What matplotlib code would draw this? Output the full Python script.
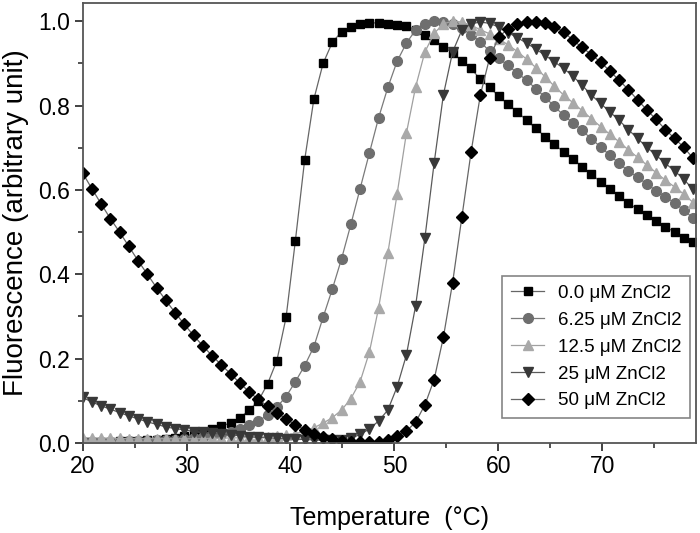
import matplotlib
matplotlib.use("Agg")
import matplotlib.pyplot as plt
from matplotlib.ticker import MultipleLocator

temps = [20.00, 20.89, 21.78, 22.67, 23.56, 24.45, 25.34, 26.23, 27.12, 28.01,
         28.90, 29.79, 30.68, 31.57, 32.46, 33.35, 34.24, 35.13, 36.02, 36.91,
         37.80, 38.69, 39.58, 40.47, 41.36, 42.25, 43.14, 44.03, 44.92, 45.81,
         46.70, 47.59, 48.48, 49.37, 50.26, 51.15, 52.04, 52.93, 53.82, 54.71,
         55.60, 56.49, 57.38, 58.27, 59.16, 60.05, 60.94, 61.83, 62.72, 63.61,
         64.50, 65.39, 66.28, 67.17, 68.06, 68.95, 69.84, 70.73, 71.62, 72.51,
         73.40, 74.29, 75.18, 76.07, 76.96, 77.85, 78.74]

zn_0 = [0.003, 0.003, 0.003, 0.003, 0.004, 0.004, 0.005, 0.006, 0.007, 0.009,
        0.012, 0.016, 0.021, 0.026, 0.032, 0.039, 0.048, 0.060, 0.077, 0.100,
        0.140, 0.195, 0.298, 0.479, 0.670, 0.815, 0.900, 0.950, 0.975, 0.986,
        0.993, 0.996, 0.996, 0.994, 0.991, 0.988, 0.980, 0.967, 0.955, 0.940,
        0.925, 0.906, 0.888, 0.862, 0.843, 0.822, 0.803, 0.785, 0.765, 0.746,
        0.726, 0.708, 0.690, 0.673, 0.655, 0.637, 0.619, 0.603, 0.585, 0.569,
        0.554, 0.540, 0.527, 0.513, 0.500, 0.487, 0.476]

zn_625 = [0.002, 0.002, 0.003, 0.003, 0.003, 0.004, 0.004, 0.005, 0.006, 0.007,
          0.008, 0.010, 0.012, 0.015, 0.018, 0.022, 0.027, 0.034, 0.042, 0.052,
          0.066, 0.085, 0.110, 0.145, 0.183, 0.228, 0.298, 0.365, 0.437, 0.518,
          0.603, 0.687, 0.771, 0.843, 0.905, 0.948, 0.979, 0.994, 1.000, 0.999,
          0.993, 0.983, 0.968, 0.951, 0.929, 0.912, 0.895, 0.877, 0.860, 0.840,
          0.820, 0.798, 0.777, 0.759, 0.741, 0.721, 0.702, 0.682, 0.663, 0.645,
          0.630, 0.614, 0.598, 0.584, 0.569, 0.552, 0.533]

zn_125 = [0.012, 0.012, 0.011, 0.011, 0.011, 0.010, 0.010, 0.010, 0.010, 0.010,
          0.010, 0.010, 0.010, 0.010, 0.011, 0.011, 0.012, 0.012, 0.013, 0.014,
          0.015, 0.017, 0.019, 0.022, 0.028, 0.036, 0.047, 0.060, 0.078, 0.105,
          0.145, 0.215, 0.320, 0.450, 0.590, 0.734, 0.844, 0.927, 0.971, 0.994,
          1.000, 0.998, 0.990, 0.980, 0.970, 0.958, 0.944, 0.928, 0.910, 0.890,
          0.868, 0.846, 0.825, 0.807, 0.788, 0.769, 0.750, 0.732, 0.714, 0.695,
          0.677, 0.659, 0.641, 0.623, 0.607, 0.590, 0.570]

zn_25 = [0.108, 0.097, 0.088, 0.080, 0.072, 0.064, 0.057, 0.050, 0.044, 0.038,
         0.034, 0.031, 0.027, 0.025, 0.023, 0.021, 0.019, 0.017, 0.015, 0.013,
         0.012, 0.011, 0.010, 0.009, 0.008, 0.007, 0.006, 0.006, 0.007, 0.011,
         0.020, 0.033, 0.052, 0.078, 0.133, 0.208, 0.325, 0.485, 0.663, 0.825,
         0.927, 0.979, 0.994, 0.998, 0.995, 0.986, 0.973, 0.961, 0.948, 0.934,
         0.919, 0.904, 0.888, 0.870, 0.848, 0.825, 0.805, 0.785, 0.765, 0.743,
         0.722, 0.701, 0.682, 0.663, 0.645, 0.625, 0.601]

zn_50 = [0.640, 0.603, 0.567, 0.532, 0.500, 0.466, 0.432, 0.400, 0.368, 0.338,
         0.309, 0.281, 0.255, 0.230, 0.207, 0.185, 0.164, 0.142, 0.121, 0.103,
         0.087, 0.072, 0.057, 0.043, 0.031, 0.021, 0.014, 0.009, 0.005, 0.003,
         0.002, 0.002, 0.003, 0.008, 0.016, 0.028, 0.049, 0.090, 0.150, 0.250,
         0.380, 0.535, 0.690, 0.825, 0.913, 0.963, 0.982, 0.993, 0.998, 0.999,
         0.995, 0.987, 0.975, 0.955, 0.938, 0.921, 0.903, 0.882, 0.860, 0.838,
         0.813, 0.790, 0.767, 0.743, 0.722, 0.701, 0.675]

labels = ["0.0 \u03bcM ZnCl2", "6.25 \u03bcM ZnCl2", "12.5 \u03bcM ZnCl2",
          "25 \u03bcM ZnCl2", "50 \u03bcM ZnCl2"]
series = [zn_0, zn_625, zn_125, zn_25, zn_50]

styles = [
    dict(marker="s", ms=6.0, mfc="#000000", mec="#000000", color="#666666"),
    dict(marker="o", ms=7.0, mfc="#6e6e6e", mec="#6e6e6e", color="#7a7a7a"),
    dict(marker="^", ms=7.5, mfc="#a9a9a9", mec="#a9a9a9", color="#a0a0a0"),
    dict(marker="v", ms=7.5, mfc="#383838", mec="#383838", color="#5a5a5a"),
    dict(marker="D", ms=6.5, mfc="#000000", mec="#000000", color="#666666"),
]

plt.rcParams["font.family"] = ["Liberation Sans", "DejaVu Sans"]

fig = plt.figure(figsize=(7.0, 5.33), dpi=100)
ax = fig.add_axes([0.118, 0.169, 0.876, 0.826])

for vals, lab, st in zip(series, labels, styles):
    ax.plot(temps, vals, linestyle="-", linewidth=0.9, label=lab, **st)

ax.set_xlim(20, 79)
ax.set_ylim(0, 1.044)
ax.xaxis.set_major_locator(MultipleLocator(10))
ax.xaxis.set_minor_locator(MultipleLocator(5))
ax.yaxis.set_major_locator(MultipleLocator(0.2))
ax.yaxis.set_minor_locator(MultipleLocator(0.1))
ax.yaxis.set_major_formatter(plt.FuncFormatter(lambda v, p: f"{v:.1f}"))

ax.tick_params(which="major", direction="out", length=6, width=1.3,
               color="#333333", labelsize=16.5, pad=3)
ax.tick_params(which="minor", direction="out", length=3.5, width=1.2,
               color="#333333")
for s in ax.spines.values():
    s.set_color("#555555")
    s.set_linewidth(1.3)

ax.set_xlabel("Temperature  (\u00b0C)", fontsize=18, labelpad=20)
ax.set_ylabel("Fluorescence (arbitrary unit)", fontsize=20, labelpad=7)

leg = ax.legend(loc="lower right", bbox_to_anchor=(0.990, 0.057),
                fontsize=13.5, frameon=True, fancybox=False,
                edgecolor="#666666", handlelength=1.8, handletextpad=0.7,
                labelspacing=0.52, borderpad=0.45, borderaxespad=0)
leg.get_frame().set_linewidth(1.2)

fig.savefig("out.png", dpi=100)
